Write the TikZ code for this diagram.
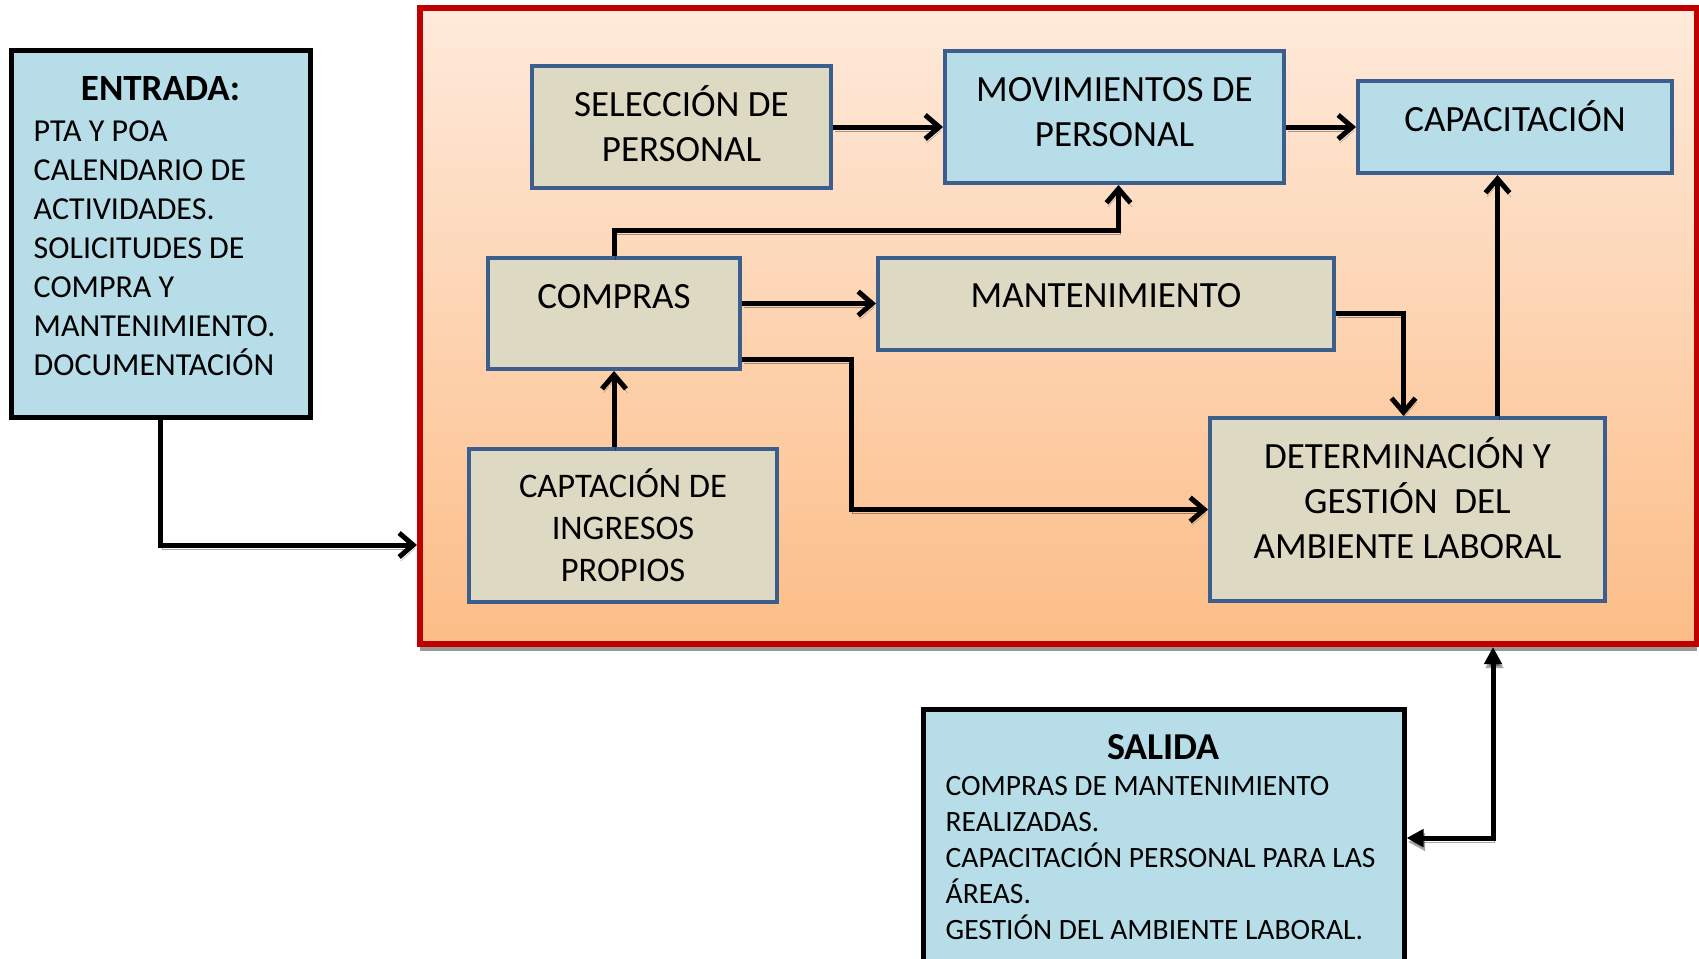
\documentclass[tikz,border=0pt]{standalone}
\usepackage{fontspec}
\setmainfont{Carlito}
\usetikzlibrary{arrows.meta,shadows}

\definecolor{rojo}{HTML}{C00000}
\definecolor{naranjaclaro}{HTML}{FEEADB}
\definecolor{naranja}{HTML}{FCBD87}
\definecolor{celeste}{HTML}{B7DEE8}
\definecolor{beige}{HTML}{DDD9C3}
\definecolor{azulborde}{HTML}{3B5E8C}

\begin{document}
\begin{tikzpicture}[x=1pt, y=-1pt,
    caja/.style={draw=azulborde, line width=4pt, inner sep=0pt},
    marco/.style={draw=black, line width=5pt, fill=celeste, inner sep=0pt},
    texto/.style={inner sep=0pt, align=center, font=\fontsize{37}{45}\selectfont},
    cuerpo/.style={inner sep=0pt, align=flush left, text width=480pt},
    sombra/.style={preaction={draw=black, opacity=0.35, transform canvas={shift={(1.5pt,-4pt)}}}},
    flecha/.style={line width=5pt, -{Straight Barb[length=14pt,width=24pt]}, sombra},
    doble/.style={line width=5pt, {Triangle[length=17pt,width=17pt]}-{Triangle[length=17pt,width=17pt]}, sombra}]

    \useasboundingbox (0,0) rectangle (1699,958);

    % proceso
    \node[draw=rojo, line width=6pt, top color=naranjaclaro, bottom color=naranja, minimum width=1277, minimum height=636,
          drop shadow={shadow xshift=0pt, shadow yshift=-7pt, fill=black!40, opacity=1}] (proc) at (1058.5,326) {};

    \node[caja, fill=beige, minimum width=299, minimum height=122, label={[texto, yshift=3pt]center:SELECCIÓN DE\\PERSONAL}] (sel) at (681.5,127) {};
    \node[caja, fill=celeste, minimum width=339, minimum height=132, label={[texto, yshift=5pt]center:MOVIMIENTOS DE\\PERSONAL}] (mov) at (1114.5,117) {};
    \node[caja, fill=celeste, minimum width=314, minimum height=92, label={[texto, yshift=11pt]center:CAPACITACIÓN}] (cap) at (1515,127) {};
    \node[caja, fill=beige, minimum width=252, minimum height=111, label={[texto, yshift=17pt]center:COMPRAS}] (comp) at (614,313.5) {};
    \node[caja, fill=beige, minimum width=456, minimum height=92, label={[texto, yshift=8pt]center:MANTENIMIENTO}] (mant) at (1106,304) {};
    \node[caja, fill=beige, minimum width=308, minimum height=153, label={[texto, font=\fontsize{34.5}{42}\selectfont]center:CAPTACIÓN DE\\INGRESOS\\PROPIOS}] (capt) at (623,525) {};
    \node[caja, fill=beige, minimum width=395, minimum height=183, label={[texto, yshift=11pt]center:DETERMINACIÓN Y\\GESTIÓN\ \ DEL\\AMBIENTE LABORAL}] (det) at (1407.5,509.5) {};

    % entrada y salida
    \node[marco, minimum width=299, minimum height=366,
          label={[texto, anchor=north, yshift=-28pt, font=\fontsize{37}{44}\bfseries]north:ENTRADA:},
          label={[cuerpo, anchor=north west, xshift=25pt, yshift=-72pt, font=\fontsize{32}{39}\selectfont]north west:PTA Y POA\\CALENDARIO DE\\ACTIVIDADES.\\SOLICITUDES DE\\COMPRA Y\\MANTENIMIENTO.\\DOCUMENTACIÓN}] (ent) at (160.5,234) {};
    \node[marco, minimum width=481, minimum height=258,
          label={[texto, anchor=north, yshift=-28pt, font=\fontsize{38}{44}\bfseries]north:SALIDA},
          label={[cuerpo, anchor=north west, xshift=25pt, yshift=-70pt, font=\fontsize{29.5}{35.8}\selectfont]north west:COMPRAS DE MANTENIMIENTO\\REALIZADAS.\\CAPACITACIÓN PERSONAL PARA LAS\\ÁREAS.\\GESTIÓN DEL AMBIENTE LABORAL.}] (sal) at (1163.5,838) {};

    \draw[flecha] (sel.east) -- (sel.east -| mov.west);
    \draw[flecha] (mov.east |- cap.west) -- (cap.west);
    \draw[flecha] (comp.north) -- ++(0,-26) -| ([xshift=4pt]mov.south);
    \draw[flecha] ([yshift=10pt]comp.east) -- ([yshift=10pt]comp.east -| mant.west);
    \draw[flecha] ([yshift=-46pt]comp.east) -- ++(109,0) |- (det.west);
    \draw[flecha] ([yshift=-9pt]mant.east) -| ([xshift=-4pt]det.north);
    \draw[flecha] ([xshift=90pt]det.north) -- ([xshift=90pt]det.north |- cap.south);
    \draw[flecha] (comp.south |- capt.north) -- (comp.south);
    \draw[flecha] (ent.south) |- ([yshift=-219pt]proc.west);
    \draw[doble] ([xshift=434.5pt]proc.south) |- (sal.east);

\end{tikzpicture}
\end{document}
